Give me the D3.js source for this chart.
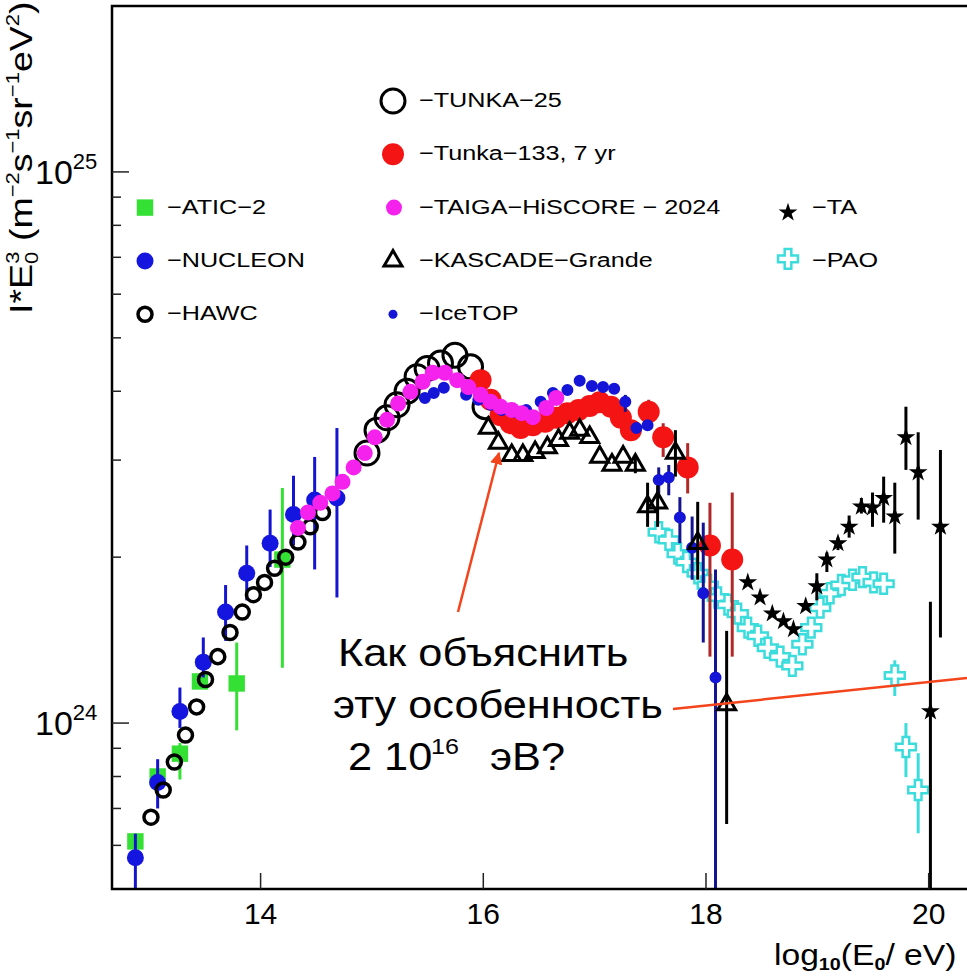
<!DOCTYPE html>
<html>
<head>
<meta charset="utf-8">
<script src="https://cdn.jsdelivr.net/npm/d3@7"></script>
<style>
  html, body { margin: 0; padding: 0; background: #fff; }
  svg { display: block; font-family: "Liberation Sans", Arial, sans-serif; }
</style>
</head>
<body>
<svg id="chart" width="967" height="976"></svg>
<script>
// x = log10(E0/eV), v = I*E0^3 in units of 1e24 m^-2 s^-1 sr^-1 eV^2, optional [lo, hi] error bar
const atic = [
  [12.88, 0.61], [13.08, 0.80], [13.28, 0.88, 0.79, 0.92], [13.46, 1.19],
  [13.79, 1.18, 0.97, 1.40], [14.20, 1.98, 1.26, 2.67]
];
const nucleon = [
  [12.88, 0.57, 0.50, 0.63], [13.08, 0.78, 0.70, 0.86], [13.28, 1.05, 0.98, 1.16],
  [13.49, 1.29, 1.21, 1.43], [13.69, 1.59, 1.41, 1.78], [13.88, 1.87, 1.67, 2.10],
  [14.09, 2.12, 1.92, 2.44], [14.30, 2.39, 2.10, 2.81], [14.49, 2.54, 1.90, 3.04],
  [14.69, 2.56, 1.69, 3.43]
];
const hawc = [
  [13.02, 0.675], [13.13, 0.756], [13.23, 0.85], [13.33, 0.951], [13.43, 1.07],
  [13.51, 1.20], [13.62, 1.32], [13.73, 1.46], [13.84, 1.59], [13.94, 1.71],
  [14.04, 1.80], [14.13, 1.91], [14.23, 2.00], [14.34, 2.13], [14.45, 2.27], [14.56, 2.41]
];
const tunka25 = [
  [14.96, 3.09], [15.05, 3.40], [15.14, 3.58], [15.23, 3.78], [15.32, 4.00], [15.41, 4.25],
  [15.50, 4.40], [15.62, 4.50], [15.75, 4.65], [15.89, 4.43], [16.02, 3.75]
];
const tunka133 = [
  [15.98, 4.19], [16.07, 3.86], [16.16, 3.62], [16.25, 3.50], [16.34, 3.43], [16.45, 3.47],
  [16.56, 3.52], [16.66, 3.58], [16.76, 3.65], [16.86, 3.70], [16.96, 3.76], [17.05, 3.82],
  [17.15, 3.75], [17.24, 3.58], [17.33, 3.40], [17.49, 3.67, 3.45, 3.86],
  [17.62, 3.30, 3.04, 3.50], [17.84, 2.91, 2.61, 3.22], [18.04, 2.10, 1.32, 2.51],
  [18.24, 1.98, 1.32, 2.62]
];
const taiga = [
  [14.34, 2.26], [14.43, 2.41], [14.54, 2.51], [14.65, 2.61], [14.74, 2.74], [14.84, 2.91],
  [14.94, 3.09], [15.03, 3.30], [15.14, 3.55], [15.24, 3.80], [15.35, 3.99], [15.46, 4.16],
  [15.55, 4.32], [15.66, 4.32], [15.77, 4.19], [15.87, 4.07], [15.98, 3.94], [16.07, 3.83],
  [16.16, 3.75], [16.26, 3.70], [16.35, 3.65], [16.45, 3.59], [16.57, 3.73], [16.66, 3.89]
];
const kascade = [
  [16.05, 3.43], [16.14, 3.22], [16.26, 3.06], [16.36, 3.06], [16.47, 3.10], [16.58, 3.16],
  [16.68, 3.26], [16.78, 3.36], [16.87, 3.40], [16.96, 3.30], [17.05, 3.04], [17.16, 2.94],
  [17.26, 3.04], [17.37, 2.94, 2.84, 3.06], [17.48, 2.47, 2.27, 2.73], [17.57, 2.51, 2.27, 2.70],
  [17.73, 3.09, 2.80, 3.40], [17.93, 2.12, 1.82, 2.52], [18.19, 1.08, 0.656, 1.47]
];
const icetop = [
  [15.48, 3.89], [15.56, 3.97], [15.65, 4.06], [15.85, 3.94], [15.96, 3.86], [16.07, 3.78],
  [16.17, 3.70], [16.28, 3.67], [16.39, 3.70], [16.52, 3.83], [16.63, 3.97], [16.76, 4.02],
  [16.87, 4.18], [16.98, 4.09], [17.08, 4.07], [17.18, 4.04], [17.28, 3.83, 3.67, 3.94],
  [17.38, 3.43], [17.48, 3.47], [17.58, 2.76, 2.61, 2.91], [17.67, 2.79, 2.59, 2.94],
  [17.77, 2.36, 2.12, 2.57], [17.88, 2.08, 1.82, 2.37], [17.98, 1.72, 1.40, 2.31],
  [18.09, 1.21, 0.50, 1.90]
];
const ta = [
  [18.38, 1.80], [18.49, 1.69], [18.60, 1.58], [18.70, 1.53], [18.79, 1.48], [18.90, 1.63],
  [19.00, 1.77, 1.67, 1.87], [19.09, 1.98, 1.88, 2.04], [19.19, 2.12, 2.06, 2.17],
  [19.29, 2.27, 2.17, 2.38], [19.40, 2.47, 2.40, 2.56], [19.50, 2.46, 2.27, 2.62],
  [19.60, 2.56, 2.31, 2.80], [19.70, 2.37, 2.03, 2.73], [19.80, 3.30, 2.88, 3.75],
  [19.91, 2.85, 2.34, 3.37], [20.02, 1.05, 0.50, 1.66], [20.11, 2.27, 1.43, 3.13]
];
const pao = [
  [17.58, 2.22], [17.67, 2.15], [17.75, 2.03], [17.83, 1.96], [17.93, 1.87], [18.02, 1.78],
  [18.11, 1.69], [18.20, 1.64], [18.29, 1.58], [18.38, 1.49], [18.47, 1.44], [18.56, 1.37],
  [18.67, 1.32], [18.78, 1.27], [18.87, 1.39], [18.95, 1.49], [19.03, 1.62], [19.12, 1.72],
  [19.22, 1.78], [19.32, 1.82], [19.41, 1.84], [19.51, 1.80], [19.60, 1.79],
  [19.70, 1.22, 1.12, 1.30], [19.80, 0.905, 0.798, 1.00], [19.91, 0.756, 0.631, 0.882]
];
const xTicks = [14, 16, 18, 20];

const svg = d3.select("#chart");
const plot = { left: 112, top: 6, right: 995, bottom: 889 };
const x = d3.scaleLinear().domain([12.67, 20.6]).range([plot.left, plot.right]);
const y = d3.scaleLog().domain([0.5, 20]).range([plot.bottom, plot.top]);

const defs = svg.append("defs");
defs.append("clipPath").attr("id", "plotClip")
    .append("rect")
    .attr("x", plot.left).attr("y", plot.top)
    .attr("width", plot.right - plot.left).attr("height", plot.bottom - plot.top);
defs.append("marker")
    .attr("id", "arrowHead")
    .attr("viewBox", "0 0 10 10")
    .attr("refX", 9).attr("refY", 5)
    .attr("markerWidth", 5).attr("markerHeight", 5)
    .attr("orient", "auto")
    .append("path").attr("d", "M0,0L10,5L0,10Z").attr("fill", "#f4441c");

const styles = {
  pao: { type: d3.symbolCross, size: 220, fill: "#fff", stroke: "#3cdcdc", sw: 2.5, bar: "#3cdcdc" },
  atic: { type: d3.symbolSquare, size: 270, fill: "#35e035", stroke: "none", sw: 0, bar: "#35e035" },
  nucleon: { type: d3.symbolCircle, size: 227, fill: "#1515e0", stroke: "none", sw: 0, bar: "#1515d0" },
  hawc: { type: d3.symbolCircle, size: 154, fill: "none", stroke: "#000", sw: 3.5, bar: "#000" },
  tunka25: { type: d3.symbolCircle, size: 452, fill: "none", stroke: "#000", sw: 3, bar: "#000" },
  tunka133: { type: d3.symbolCircle, size: 380, fill: "#f51414", stroke: "none", sw: 0, bar: "#b02828" },
  icetop: { type: d3.symbolCircle, size: 113, fill: "#1515d8", stroke: "none", sw: 0, bar: "#141490" },
  taiga: { type: d3.symbolCircle, size: 201, fill: "#f522ee", stroke: "none", sw: 0, bar: "#f522ee" },
  kascade: { type: d3.symbolTriangle, size: 140, fill: "none", stroke: "#000", sw: 3, bar: "#000" },
  ta: { type: d3.symbolStar, size: 110, fill: "#000", stroke: "none", sw: 0, bar: "#000" }
};

const marks = svg.append("g").attr("clip-path", "url(#plotClip)");

const drawSeries = (data, style) => {
    const g = marks.append("g");
    g.selectAll("line")
        .data(data.filter(d => d.length > 2))
        .join("line")
        .attr("x1", d => x(d[0])).attr("x2", d => x(d[0]))
        .attr("y1", d => y(d[2])).attr("y2", d => y(d[3]))
        .attr("stroke", style.bar)
        .attr("stroke-width", 3);
    g.selectAll("path")
        .data(data)
        .join("path")
        .attr("transform", d => `translate(${x(d[0])},${y(d[1])})`)
        .attr("d", d3.symbol(style.type, style.size))
        .attr("fill", style.fill)
        .attr("stroke", style.stroke)
        .attr("stroke-width", style.sw);
}

drawSeries(pao, styles.pao);
drawSeries(atic, styles.atic);
drawSeries(nucleon, styles.nucleon);
drawSeries(hawc, styles.hawc);
drawSeries(tunka25, styles.tunka25);
drawSeries(tunka133, styles.tunka133);
drawSeries(icetop, styles.icetop);
drawSeries(taiga, styles.taiga);
drawSeries(kascade, styles.kascade);
drawSeries(ta, styles.ta);

// frame (right side is cut off in the original)
svg.append("path")
    .attr("d", `M${plot.right},${plot.top}H${plot.left}V${plot.bottom}H${plot.right}`)
    .attr("fill", "none")
    .attr("stroke", "#000")
    .attr("stroke-width", 2.5);

// x axis
const xAxis = d3.axisBottom(x).tickValues(xTicks).tickSizeInner(-16).tickSizeOuter(0).tickPadding(14);
svg.append("g")
    .attr("transform", `translate(0,${plot.bottom})`)
    .call(xAxis)
    .attr("font-family", "Liberation Sans, Arial, sans-serif")
    .call(g => g.select(".domain").remove())
    .call(g => g.selectAll("line").attr("stroke", "#222").attr("stroke-width", 1.5))
    .call(g => g.selectAll("text").attr("font-size", 30).attr("fill", "#000"));

// y axis ticks, inward
const yTickVals = y.ticks();
const isMajor = v => Math.abs(Math.log10(v) - Math.round(Math.log10(v))) < 1e-9;
svg.append("g").selectAll("line")
    .data(yTickVals.filter(v => v > 0.5 && v < 20))
    .join("line")
    .attr("x1", plot.left)
    .attr("x2", v => plot.left + (isMajor(v) ? 17 : 9))
    .attr("y1", v => y(v)).attr("y2", v => y(v))
    .attr("stroke", "#222").attr("stroke-width", 1.5);

const yLabels = svg.append("g").selectAll("text")
    .data(yTickVals.filter(isMajor))
    .join("text")
    .attr("x", 35)
    .attr("y", v => y(v) + 12)
    .attr("font-size", 34);
yLabels.append("tspan").text("10");
yLabels.append("tspan").attr("font-size", 22).attr("dy", -15)
    .text(v => Math.round(Math.log10(v)) + 24);

// axis titles
const xTitle = svg.append("text")
    .attr("transform", "translate(774,965) scale(1.16,1)")
    .attr("font-size", 29);
xTitle.append("tspan").text("log");
xTitle.append("tspan").attr("font-size", 17).attr("font-weight", "bold").attr("dy", 5).text("10");
xTitle.append("tspan").attr("dy", -5).text("(E");
xTitle.append("tspan").attr("font-size", 17).attr("font-weight", "bold").attr("dy", 5).text("0");
xTitle.append("tspan").attr("dy", -5).text("/ eV)");

// y title runs up to the top edge, as in the original
const yTitle = svg.append("text")
    .attr("transform", "translate(32,314) rotate(-90) scale(1,0.85)")
    .attr("font-size", 37.5);
yTitle.append("tspan").text("I*E");
yTitle.append("tspan").attr("font-size", 22).attr("dy", 7).text("0");
yTitle.append("tspan").attr("font-size", 22).attr("dx", -12).attr("dy", -22).text("3");
yTitle.append("tspan").attr("dy", 15).text(" (m");
yTitle.append("tspan").attr("font-size", 22).attr("dy", -15).text("−2");
yTitle.append("tspan").attr("dy", 15).text("s");
yTitle.append("tspan").attr("font-size", 22).attr("dy", -15).text("−1");
yTitle.append("tspan").attr("dy", 15).text("sr");
yTitle.append("tspan").attr("font-size", 22).attr("dy", -15).text("−1");
yTitle.append("tspan").attr("dy", 15).text("eV");
yTitle.append("tspan").attr("font-size", 22).attr("dy", -15).text("2");
yTitle.append("tspan").attr("dy", 15).text(")");

// legend
const legendItems = [
  { key: "atic", label: "−ATIC−2", sx: 145, tx: 167, row: 2 },
  { key: "nucleon", label: "−NUCLEON", sx: 145, tx: 167, row: 3 },
  { key: "hawc", label: "−HAWC", sx: 145, tx: 167, row: 4 },
  { key: "tunka25", label: "−TUNKA−25", sx: 393, tx: 419, row: 0 },
  { key: "tunka133", label: "−Tunka−133, 7 yr", sx: 393, tx: 419, row: 1 },
  { key: "taiga", label: "−TAIGA−HiSCORE − 2024", sx: 394, tx: 419, row: 2 },
  { key: "kascade", label: "−KASCADE−Grande", sx: 393, tx: 419, row: 3 },
  { key: "icetop", label: "−IceTOP", sx: 393, tx: 419, row: 4, small: true },
  { key: "ta", label: "−TA", sx: 788, tx: 812, row: 2, dy: 5 },
  { key: "pao", label: "−PAO", sx: 788, tx: 812, row: 3, dy: -2 }
];
const rowY = r => 107 + r * 53.3;
const legend = svg.append("g");
legendItems.forEach(item => {
    const st = styles[item.key];
    legend.append("path")
        .attr("transform", `translate(${item.sx},${rowY(item.row) - 6 + (item.dy || 0)})`)
        .attr("d", d3.symbol(st.type, item.small ? 64 : st.size))
        .attr("fill", st.fill)
        .attr("stroke", st.stroke)
        .attr("stroke-width", st.sw);
    legend.append("text")
        .attr("transform", `translate(${item.tx},${rowY(item.row)}) scale(1.2,1)`)
        .attr("font-size", 21)
        .text(item.label);
});

// annotation
svg.append("line")
    .attr("x1", 458).attr("y1", 612).attr("x2", 499).attr("y2", 453)
    .attr("stroke", "#f4441c").attr("stroke-width", 2.5)
    .attr("marker-end", "url(#arrowHead)");
svg.append("line")
    .attr("x1", 673).attr("y1", 709).attr("x2", 967).attr("y2", 678)
    .attr("stroke", "#f4441c").attr("stroke-width", 2.5);

const note = svg.append("g").attr("font-size", 38);
const noteText = (str, px, py, size) => note.append("text")
    .attr("transform", `translate(${px},${py}) scale(1.14,1)`)
    .attr("font-size", size || null)
    .text(str);
noteText("Как объяснить", 338, 666);
noteText("эту особенность", 333, 718);
noteText("2 10", 348, 770);
noteText("16", 431, 754, 22);
noteText("эВ?", 490, 770);
</script>
</body>
</html>
